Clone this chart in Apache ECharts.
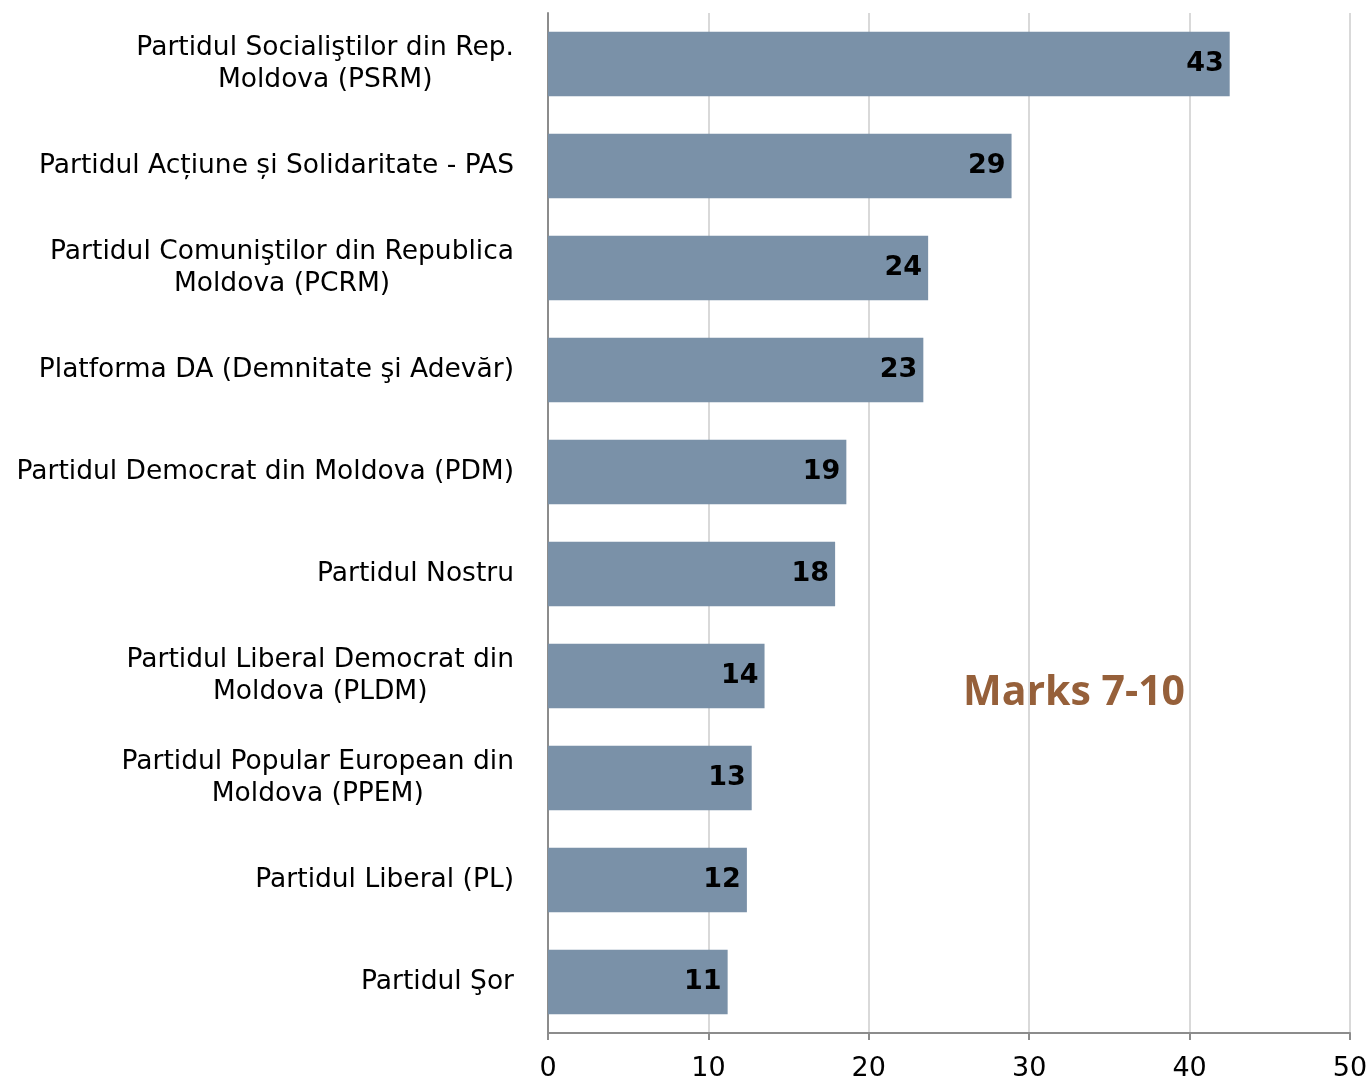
<!DOCTYPE html>
<html>
<head>
<meta charset="utf-8">
<script src="https://cdn.jsdelivr.net/npm/echarts@6/dist/echarts.min.js"></script>
<style>
  html, body { margin: 0; padding: 0; background: #fff; }
  #chart { width: 1368px; height: 1080px; }
</style>
</head>
<body>
<div id="chart"></div>
<script>
// party names (two-line ones split as in the picture)
var parties = [
  'Partidul Socialiştilor din Rep.\nMoldova (PSRM)',
  'Partidul Acțiune și Solidaritate - PAS',
  'Partidul Comuniştilor din Republica\nMoldova (PCRM)',
  'Platforma DA (Demnitate şi Adevăr)',
  'Partidul Democrat din Moldova (PDM)',
  'Partidul Nostru',
  'Partidul Liberal Democrat din\nMoldova (PLDM)',
  'Partidul Popular European din\nMoldova (PPEM)',
  'Partidul Liberal (PL)',
  'Partidul Şor'
];
var marks = [42.5, 28.9, 23.7, 23.4, 18.6, 17.9, 13.5, 12.7, 12.4, 11.2];
var xTicks = [0, 10, 20, 30, 40, 50];
var note = 'Marks 7-10';

var font = 'DejaVu Sans';
var chart = echarts.init(document.getElementById('chart'));

var option = {
  animation: false,
  grid: {
    left: 548, right: 18, top: 13, bottom: 47,
    containLabel: false,
    outerBoundsMode: 'none'   // keep the plot where it is, labels may touch the edge
  },
  xAxis: {
    type: 'value',
    min: xTicks[0],
    max: xTicks[xTicks.length - 1],
    interval: 10,
    axisLine: { show: true, lineStyle: { color: '#8c8c8c', width: 2 } },
    axisTick: { show: true, length: 7, lineStyle: { color: '#8c8c8c', width: 2 } },
    axisLabel: { color: '#000', fontFamily: font, fontSize: 27, margin: 22 },
    splitLine: { show: true, lineStyle: { color: '#d9d9d9', width: 2 } }
  },
  yAxis: {
    type: 'category',
    inverse: true,
    data: parties,
    axisLine: { show: true, lineStyle: { color: '#8c8c8c', width: 2 } },
    axisTick: { show: false },
    axisLabel: {
      margin: 34,
      align: 'right',
      // lines of a two-line name are centred under each other
      formatter: function (v) {
        return v.split('\n').map(function (s) { return '{c|' + s + '}'; }).join('\n');
      },
      rich: {
        c: { align: 'center', color: '#000', fontFamily: font, fontSize: 26.5, lineHeight: 32 }
      }
    }
  },
  series: [{
    type: 'bar',
    data: marks,
    barCategoryGap: '37%',
    itemStyle: { color: '#7a91a8' },
    label: {
      show: true,
      position: 'insideRight',
      distance: 6,
      color: '#000',
      fontFamily: font,
      fontWeight: 'bold',
      fontSize: 27,
      formatter: function (p) { return Math.round(p.value); }
    }
  }],
  graphic: [{
    type: 'text',
    left: 963,
    top: 673,
    style: {
      text: note,
      fill: '#96603a',
      font: 'bold 41px "Open Sans"'
    }
  }]
};

chart.setOption(option);
</script>
</body>
</html>
